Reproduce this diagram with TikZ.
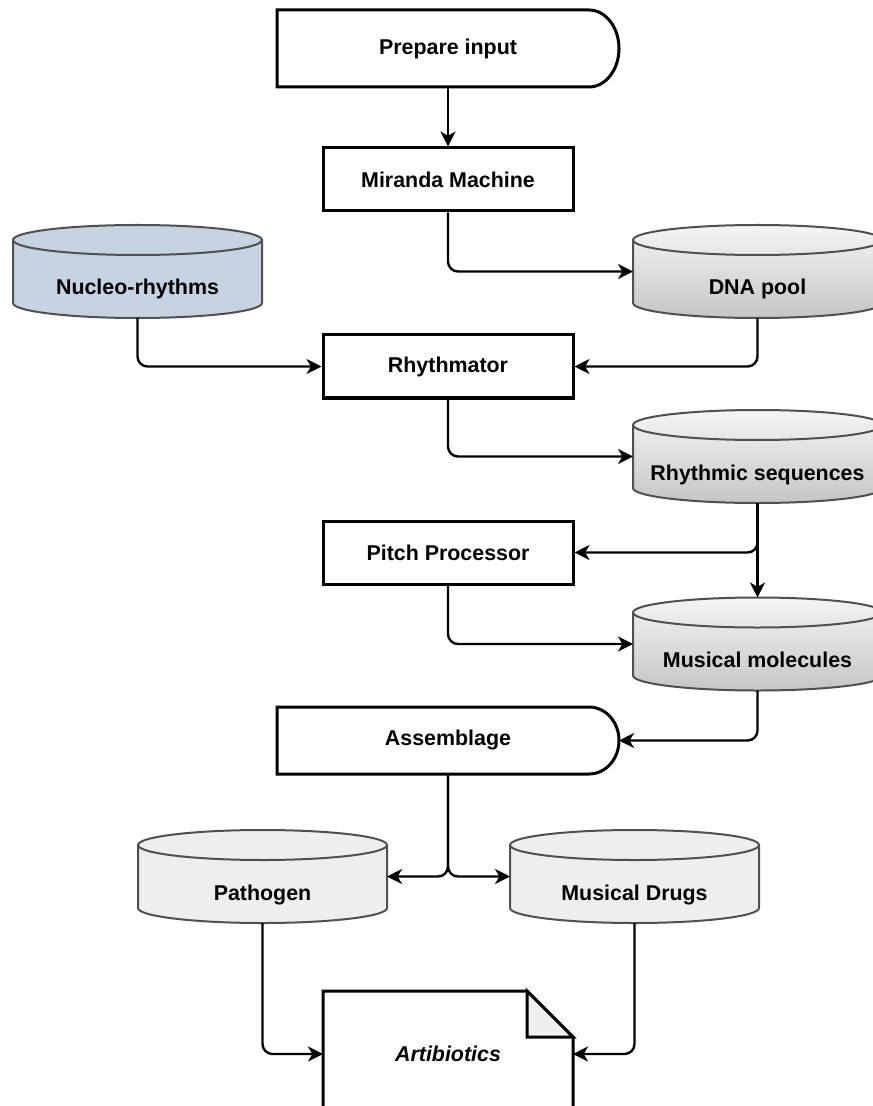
\documentclass[tikz,border=0pt]{standalone}
\usepackage{fontspec}
\setmainfont{Liberation Sans}
\usepackage{tikz}
\usetikzlibrary{arrows.meta,positioning,calc,backgrounds}

\definecolor{nucleoblue}{HTML}{C6D4E2}
\definecolor{drumline}{HTML}{505050}
\definecolor{paleshade}{HTML}{EEEEEE}

\newcommand\capry{7.5pt}
\newcommand\delayrx{15pt}
\newcommand\foldsz{23pt}

\tikzset{
  boxline/.style={draw=black, line width=1.5pt},
  drumedge/.style={draw=drumline, line width=1pt},
  proc/.style={boxline, rectangle, minimum width=125pt, minimum height=31.5pt, inner sep=0pt, fill=white},
  delaynode/.style={rectangle, minimum width=171pt, inner sep=0pt, outer sep=0pt},
  store/.style={rectangle, minimum width=124.5pt, minimum height=46.5pt, inner sep=0pt, outer sep=0pt,
    text height=26.5pt, text depth=3pt},
  docnode/.style={rectangle, minimum width=125pt, minimum height=63pt, inner sep=0pt, outer sep=0pt},
  flow/.style={draw, line width=1.2pt, ->, rounded corners=5pt}
}

% cylinder behind a store node
\newcommand\storedrum[2]{%
  \draw[drumedge,#2] let \p1=(#1.west), \p2=(#1.east), \n1={(\x2-\x1)/2} in
    ([yshift=-\capry]#1.north west) -- ([yshift=\capry]#1.south west)
    arc[start angle=180,end angle=360,x radius=\n1,y radius=\capry]
    -- ([yshift=-\capry]#1.north east)
    arc[start angle=0,end angle=180,x radius=\n1,y radius=\capry] -- cycle;
  \draw[drumedge] let \p1=(#1.west), \p2=(#1.east), \n1={(\x2-\x1)/2} in
    ([yshift=-\capry]#1.north west)
    arc[start angle=180,end angle=360,x radius=\n1,y radius=\capry];
}

% box with a round right end
\newcommand\delaybox[1]{%
  \draw[boxline,fill=white] let \p1=(#1.north east), \p2=(#1.south east), \n1={(\y1-\y2)/2} in
    (#1.north west) -- ([xshift=-\delayrx]#1.north east)
    arc[start angle=90,end angle=-90,x radius=\delayrx,y radius=\n1]
    -- (#1.south west) -- cycle;
}

% page with a folded corner
\newcommand\notesheet[1]{%
  \draw[boxline,fill=white] (#1.south west) -- (#1.north west) -- ([xshift=-\foldsz]#1.north east)
    -- ([yshift=-\foldsz]#1.north east) -- (#1.south east) -- cycle;
  \draw[boxline,fill=paleshade] ([xshift=-\foldsz]#1.north east) -- ([xshift=-\foldsz,yshift=-\foldsz]#1.north east)
    -- ([yshift=-\foldsz]#1.north east) -- cycle;
}

\begin{document}
\begin{tikzpicture}[x=0.5pt,y=-0.5pt,>={Stealth[length=7.5pt,width=7.5pt,inset=2.2pt]},
  every node/.style={font=\bfseries\fontsize{10.7}{12.8}\selectfont}]
\useasboundingbox (0,0) rectangle (872,1106);

% Process steps
\node[delaynode, minimum height=38.5pt] (prep) at (448,48.5) {Prepare input};
\node[proc] (miranda) at (448,179.5) {Miranda Machine};
\node[proc] (rhythmator) at (448,366.5) {Rhythmator};
\node[proc] (pitch) at (448,552.5) {Pitch Processor};
\node[delaynode, minimum height=33.5pt] (assemblage) at (448,740.5) {Assemblage};

% Data stores
\node[store] (nucleo) at (137.5,271.5) {Nucleo-rhythms};
\node[store] (dna) at (757.5,271.5) {DNA pool};
\node[store] (rhythmic) at (757.5,456.5) {Rhythmic sequences};
\node[store] (molecules) at (757.5,644) {Musical molecules};
\node[store] (pathogen) at (262.5,876.5) {Pathogen};
\node[store] (drugs) at (634.5,876.5) {Musical Drugs};

% Output
\node[docnode] (artib) at (448,1054) {\itshape Artibiotics};

\begin{scope}[on background layer]
\delaybox{prep}
\delaybox{assemblage}
\storedrum{nucleo}{fill=nucleoblue}
\storedrum{dna}{top color=gray!8, bottom color=gray!45}
\storedrum{rhythmic}{top color=gray!8, bottom color=gray!45}
\storedrum{molecules}{top color=gray!8, bottom color=gray!45}
\storedrum{pathogen}{fill=paleshade}
\storedrum{drugs}{fill=paleshade}
\notesheet{artib}
\end{scope}

% Connectors
\draw[flow] (prep) -- (miranda);
\draw[flow] (miranda) |- (dna);
\draw[flow] (nucleo) |- (rhythmator);
\draw[flow] (dna) |- (rhythmator);
\draw[flow] (rhythmator) |- (rhythmic);
\draw[flow] (rhythmic) -- (molecules);
\draw[flow] (rhythmic) |- (pitch);
\draw[flow] (pitch) |- (molecules);
\draw[flow] (molecules) |- (assemblage);
\draw[flow] (assemblage) |- (pathogen);
\draw[flow] (assemblage) |- (drugs);
\draw[flow] (pathogen) |- (artib);
\draw[flow] (drugs) |- (artib);

\end{tikzpicture}
\end{document}
